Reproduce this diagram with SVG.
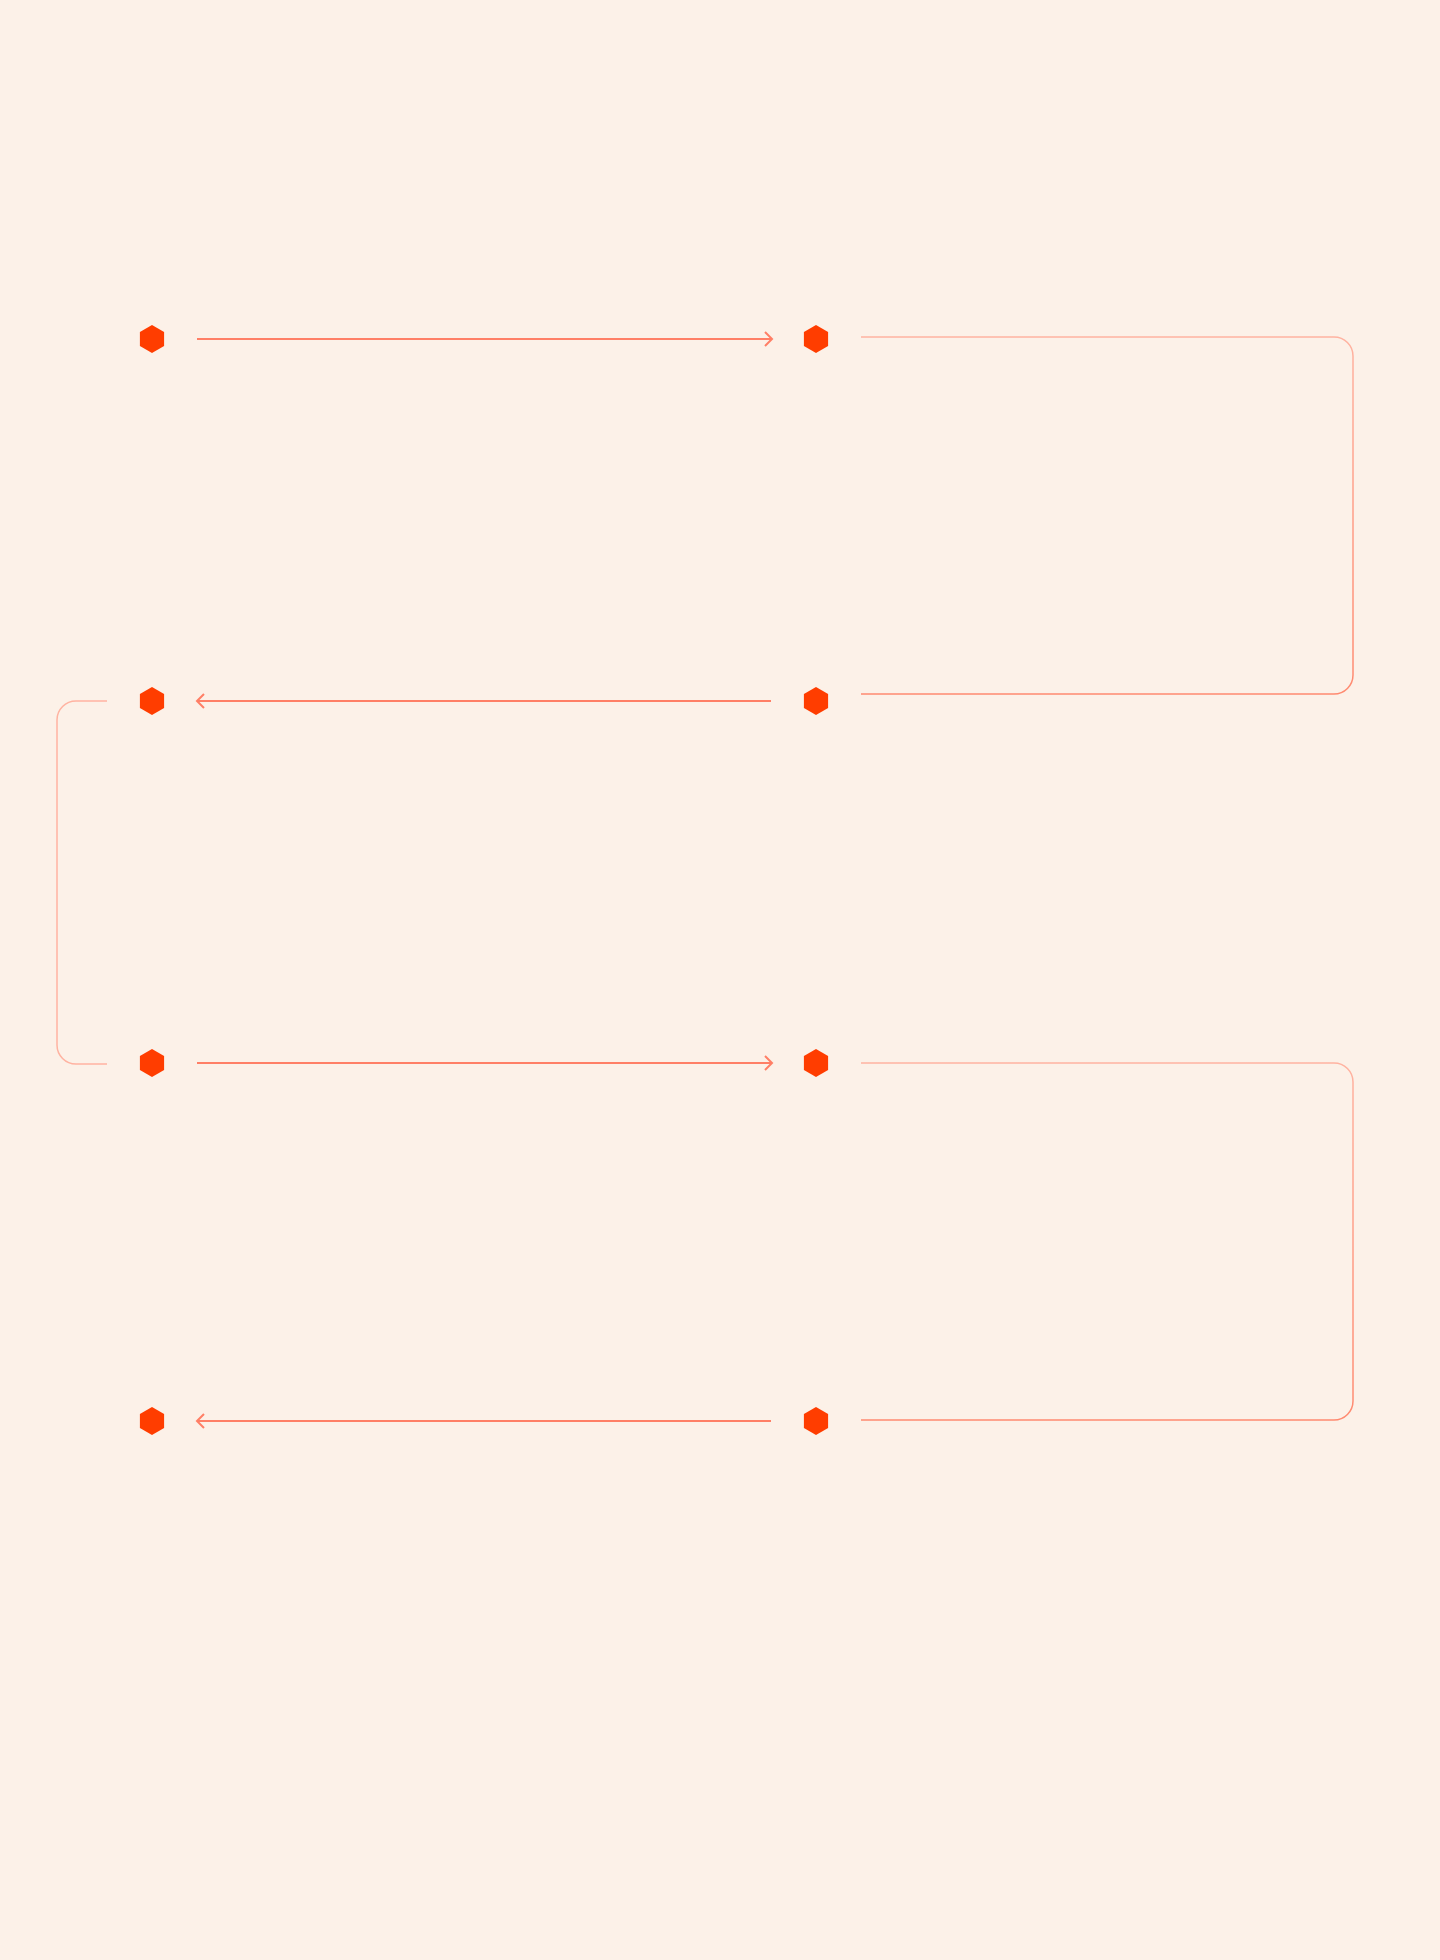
<svg xmlns="http://www.w3.org/2000/svg" width="1440" height="1960" viewBox="0 0 1440 1960">
  <defs>
    <style>
      .hex { fill: #FF3D00; }
      .flow { fill: none; stroke: #FF7F66; stroke-width: 2; }
      .loop { fill: none; stroke-width: 1.5; }
    </style>
    <marker id="arrow" viewBox="-10 -10 20 20" markerWidth="20" markerHeight="20" refX="0" refY="0" orient="auto" markerUnits="userSpaceOnUse">
      <path d="M -7 -7 L 0 0 L -7 7" fill="none" stroke="#FF7F66" stroke-width="2"/>
    </marker>
    <linearGradient id="gradDown" x1="0" y1="0" x2="0" y2="1">
      <stop offset="0" stop-color="#FFB3A1"/>
      <stop offset="1" stop-color="#FF8A70"/>
    </linearGradient>
    <polygon id="hexShape" points="0,-14 12.1,-7 12.1,7 0,14 -12.1,7 -12.1,-7"/>
  </defs>
  <rect width="1440" height="1960" fill="#FCF1E8"/>

  <g id="connectors">
    <path class="flow" d="M 197 339 L 772 339" marker-end="url(#arrow)"/>
    <path class="flow" d="M 771 701 L 197 701" marker-end="url(#arrow)"/>
    <path class="flow" d="M 197 1063 L 772 1063" marker-end="url(#arrow)"/>
    <path class="flow" d="M 771 1421 L 197 1421" marker-end="url(#arrow)"/>
    <path class="loop" stroke="url(#gradDown)" d="M 861 337 L 1334 337 A 19 19 0 0 1 1353 356 L 1353 675 A 19 19 0 0 1 1334 694 L 861 694"/>
    <path class="loop" stroke="#FFB3A1" d="M 107 701 L 76 701 A 19 19 0 0 0 57 720 L 57 1045 A 19 19 0 0 0 76 1064 L 107 1064"/>
    <path class="loop" stroke="url(#gradDown)" d="M 861 1063 L 1334 1063 A 19 19 0 0 1 1353 1082 L 1353 1401 A 19 19 0 0 1 1334 1420 L 861 1420"/>
  </g>

  <g id="node-1"><use href="#hexShape" class="hex" x="152" y="339"/></g>
  <g id="node-2"><use href="#hexShape" class="hex" x="816" y="339"/></g>
  <g id="node-3"><use href="#hexShape" class="hex" x="816" y="701"/></g>
  <g id="node-4"><use href="#hexShape" class="hex" x="152" y="701"/></g>
  <g id="node-5"><use href="#hexShape" class="hex" x="152" y="1063"/></g>
  <g id="node-6"><use href="#hexShape" class="hex" x="816" y="1063"/></g>
  <g id="node-7"><use href="#hexShape" class="hex" x="816" y="1421"/></g>
  <g id="node-8"><use href="#hexShape" class="hex" x="152" y="1421"/></g>
</svg>
